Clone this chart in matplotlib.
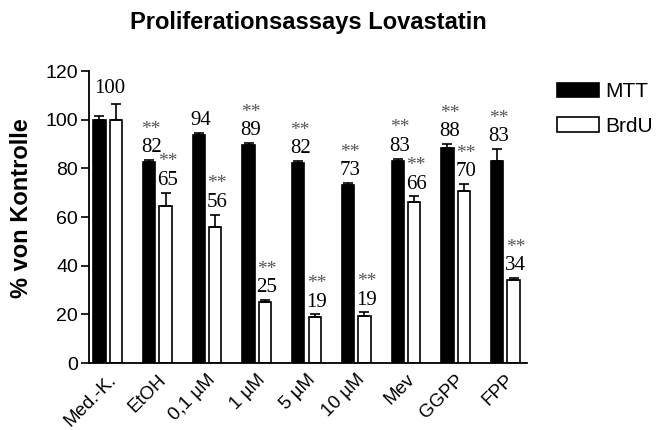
import numpy as np
import matplotlib
matplotlib.use('Agg')
import matplotlib.pyplot as plt

categories = ['Med.-K.', 'EtOH', '0,1 µM', '1 µM', '5 µM', '10 µM', 'Mev', 'GGPP', 'FPP']
mtt = [100, 82.5, 93.5, 89.5, 82, 73, 83, 88.5, 83]
mtt_err = [1.5, 1, 1, 1, 1, 1, 1, 1.5, 5]
brdu = [100, 64.5, 56, 25, 19, 19.5, 66, 70.5, 34]
brdu_err = [6.5, 5.5, 5, 1, 1, 1.3, 2.5, 3, 1]
mtt_labels = ['', '82', '94', '89', '82', '73', '83', '88', '83']
mtt_stars = [False, True, False, True, True, True, True, True, True]
brdu_labels = ['', '65', '56', '25', '19', '19', '66', '70', '34']
brdu_stars = [False, True, True, True, True, True, True, True, True]

plt.rcParams['font.family'] = ['Liberation Sans', 'DejaVu Sans']

fig = plt.figure(figsize=(6.61, 4.30), dpi=100)
ax = fig.add_axes([89 / 661, 1 - 363 / 430, 438 / 661, 292 / 430])

x = np.arange(len(categories))
w = 0.245
off = 0.33
ax.bar(x, mtt, w, color='black', edgecolor='black', linewidth=1.2, label='MTT', zorder=2)
ax.bar(x + off, brdu, w, color='white', edgecolor='black', linewidth=1.2, label='BrdU', zorder=2)
ax.errorbar(x, mtt, yerr=[np.zeros(len(x)), mtt_err], fmt='none', ecolor='black',
            elinewidth=1.2, capsize=3.5, capthick=1.2, zorder=3)
ax.errorbar(x + off, brdu, yerr=[np.zeros(len(x)), brdu_err], fmt='none', ecolor='black',
            elinewidth=1.2, capsize=3.5, capthick=1.2, zorder=3)

serif = ['Liberation Serif', 'DejaVu Serif']
# control group: one label between the bars
ax.annotate('100', (x[0] + off / 2 + 0.05, brdu[0] + brdu_err[0]), xytext=(0, 4),
            textcoords='offset points', ha='center', va='bottom', fontsize=15, family=serif)
for i in range(1, len(x)):
    for xi, top, lab, st in [(x[i], mtt[i] + mtt_err[i], mtt_labels[i], mtt_stars[i]),
                             (x[i] + off, brdu[i] + brdu_err[i], brdu_labels[i], brdu_stars[i])]:
        ax.annotate(lab, (xi + 0.04, top), xytext=(0, 2), textcoords='offset points',
                    ha='center', va='bottom', fontsize=15, family=serif)
        if st:
            ax.annotate('**', (xi + 0.04, top), xytext=(0, 16), textcoords='offset points',
                        ha='center', va='bottom', fontsize=14, family=serif, color='#555555')

ax.set_ylim(0, 120)
ax.set_xlim(-0.21, 8.6)
ax.set_yticks([0, 20, 40, 60, 80, 100, 120])
ax.tick_params(axis='y', labelsize=14, length=6, width=1.2, pad=2)
ax.set_xticks(x + off / 2)
ax.set_xticklabels(categories, rotation=45, ha='right', rotation_mode='anchor', fontsize=13.5)
ax.tick_params(axis='x', length=0, pad=6)
ax.spines['top'].set_visible(False)
ax.spines['right'].set_visible(False)
ax.spines['left'].set_linewidth(1.3)
ax.spines['bottom'].set_linewidth(1.3)
ax.set_ylabel('% von Kontrolle', fontsize=17, fontweight='bold')
ax.yaxis.set_label_coords(-0.128, 0.53)
ax.set_title('Proliferationsassays Lovastatin', fontsize=17, fontweight='bold', pad=30)

ax.legend(loc='upper left', bbox_to_anchor=(1.05, 0.99), frameon=False, fontsize=15,
          handlelength=2.0, handleheight=0.7, labelspacing=0.75, handletextpad=0.3,
          borderaxespad=0)

fig.savefig('out.png', dpi=100)
